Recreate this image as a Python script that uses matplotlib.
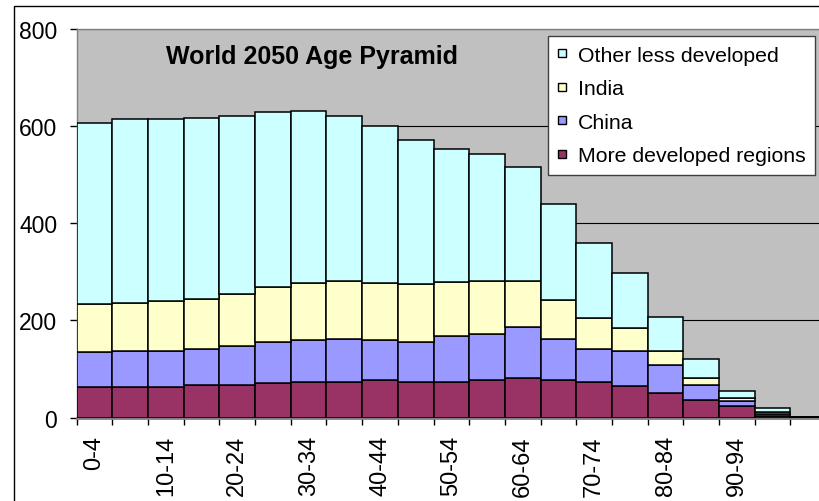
import matplotlib.pyplot as plt
from matplotlib.lines import Line2D
from matplotlib.patches import Rectangle
import numpy as np

plt.rcParams['font.family'] = ['Liberation Sans', 'DejaVu Sans']

ages = ["0-4", "5-9", "10-14", "15-19", "20-24", "25-29", "30-34", "35-39",
        "40-44", "45-49", "50-54", "55-59", "60-64", "65-69", "70-74",
        "75-79", "80-84", "85-89", "90-94", "95-99", "100+"]

more_developed = [63, 63, 63, 67, 67, 71, 74, 74, 78, 74, 74, 78, 82, 78, 73,
                  65, 51, 36, 23, 4, 0.5]
china = [72, 75, 75, 74, 81, 84, 85, 88, 81, 81, 93, 94, 104, 84, 68, 73, 58,
         31, 11, 4, 0.3]
india = [98, 98, 102, 103, 107, 113, 119, 120, 119, 120, 112, 110, 96, 81, 64,
         46, 29, 15, 6.5, 3, 0.2]
other = [374, 378, 374, 373, 365, 360, 353, 338, 321, 297, 274, 261, 233, 197,
         155, 113, 70, 39, 13.5, 9, 0.5]

series = [("More developed regions", more_developed, "#993366"),
          ("China", china, "#9999FF"),
          ("India", india, "#FFFFCC"),
          ("Other less developed", other, "#CCFFFF")]

fig = plt.figure(figsize=(8.2, 5.02), dpi=100)
ax = fig.add_axes([0.0935, 0.166, 0.914, 0.7747])
ax.set_facecolor("#C0C0C0")

x = np.arange(len(ages))
bottom = np.zeros(len(ages))
for name, vals, col in series:
    ax.bar(x, vals, width=1.0, bottom=bottom, color=col, edgecolor="black",
           linewidth=1.1, label=name, zorder=3)
    bottom += np.array(vals)

ax.set_xlim(-0.5, len(ages) - 0.5)
ax.set_ylim(0, 800)
ax.set_yticks([0, 200, 400, 600, 800])
ax.yaxis.grid(True, color="black", linewidth=0.8, zorder=1)
ax.set_axisbelow(True)

# ticks between categories, labels on every other category
ax.set_xticks(np.arange(-0.5, len(ages)), minor=False)
ax.set_xticklabels([])
ax.set_xticks(x[0:19:2], minor=True)
ax.set_xticklabels(ages[0:19:2], minor=True, rotation=90, fontsize=17)
ax.tick_params(axis="x", which="minor", length=0, pad=12.5)
ax.tick_params(axis="x", which="major", length=5, width=1, color="black")
ax.tick_params(axis="y", length=5, width=1, labelsize=16.5, pad=9)

for s in ax.spines.values():
    s.set_color("#808080")
    s.set_linewidth(1)
ax.spines["bottom"].set_linewidth(2)

ax.text(0.314, 0.93, "World 2050 Age Pyramid", transform=ax.transAxes,
        ha="center", va="center", fontsize=18, fontweight="bold")

handles = [Line2D([], [], marker="s", linestyle="none", markersize=6,
                  markerfacecolor=col, markeredgecolor="black",
                  markeredgewidth=1) for name, vals, col in series[::-1]]
labels = [name for name, vals, col in series[::-1]]
leg = ax.legend(handles, labels, loc="upper left",
                bbox_to_anchor=(0.629, 0.981), borderaxespad=0, fontsize=15.3,
                frameon=True, fancybox=False, framealpha=1, labelspacing=0.68,
                handlelength=0.4, handletextpad=0.55, borderpad=0.45)
leg.get_frame().set_edgecolor("#404040")
leg.get_frame().set_linewidth(1)
leg.set_zorder(5)

# chart area border (the right and bottom sides are cut off)
fig.add_artist(Rectangle((14 / 820, -0.1), 1.2, 1 - 7 / 502 + 0.1,
                         transform=fig.transFigure, fill=False,
                         edgecolor="black", linewidth=1))

fig.savefig("out.png", dpi=100)
